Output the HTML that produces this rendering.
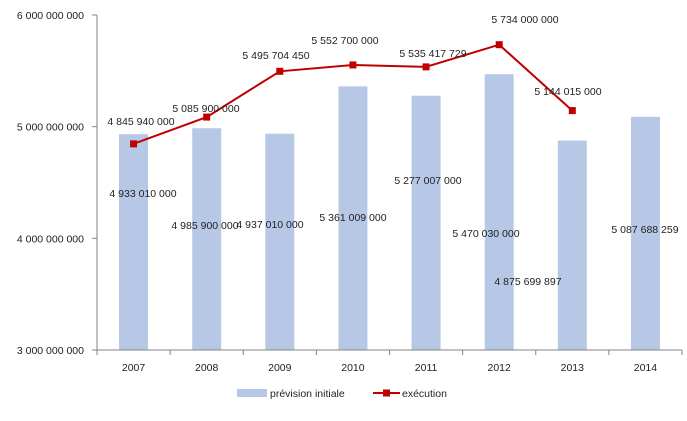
<!DOCTYPE html>
<html><head><meta charset="utf-8"><style>
body{margin:0;background:#fff}
svg text{font-family:"Liberation Sans",sans-serif;font-size:10.5px;fill:#222}
</style></head><body>
<svg id="c" width="687" height="416"></svg>
<script>
const categories=["2007","2008","2009","2010","2011","2012","2013","2014"];
const prevision=[4933010000,4985900000,4937010000,5361009000,5277007000,5470030000,4875699897,5087688259];
const execution=[4845940000,5085900000,5495704450,5552700000,5535417729,5734000000,5144015000];
const prevLabels=["4 933 010 000","4 985 900 000","4 937 010 000","5 361 009 000","5 277 007 000","5 470 030 000","4 875 699 897","5 087 688 259"];
const execLabels=["4 845 940 000","5 085 900 000","5 495 704 450","5 552 700 000","5 535 417 729","5 734 000 000","5 144 015 000"];
const yTicks=[3000000000,4000000000,5000000000,6000000000];
const yTickLabels=["3 000 000 000","4 000 000 000","5 000 000 000","6 000 000 000"];
// layout-only label placement
const prevLabelPos=[[143,193],[205,225],[270,224],[353,217],[428,180],[486,233],[528,281],[645,229]];
const execLabelPos=[[141,121],[206,108],[276,55],[345,40],[433,53],[525,19],[568,91]];
const NS="http://www.w3.org/2000/svg",svg=document.getElementById('c');
const x0=97,x1=682,yTop=15,yBot=350,vmin=3e9,vmax=6e9;
const bw=(x1-x0)/categories.length;
const X=i=>x0+bw*(i+0.5);
const Y=v=>yBot-(v-vmin)/(vmax-vmin)*(yBot-yTop);
function mk(t,a,p){const e=document.createElementNS(NS,t);for(const k in a)e.setAttribute(k,a[k]);(p||svg).appendChild(e);return e;}
prevision.forEach((v,i)=>{const r=mk('rect',{x:X(i)-14.5,y:Y(v),width:29,height:yBot-Y(v),fill:'#b7c7e6'});

});
mk('line',{x1:x0,y1:yTop,x2:x0,y2:yBot,stroke:'#868686'});
mk('line',{x1:x0,y1:yBot,x2:x1,y2:yBot,stroke:'#868686'});
yTicks.forEach((v,i)=>{mk('line',{x1:x0-5,y1:Y(v),x2:x0,y2:Y(v),stroke:'#868686'});
const t=mk('text',{x:x0-13,y:Y(v)+4,'text-anchor':'end'});t.textContent=yTickLabels[i];

});
for(let i=0;i<=categories.length;i++)mk('line',{x1:x0+bw*i,y1:yBot,x2:x0+bw*i,y2:yBot+5,stroke:'#868686'});
categories.forEach((c,i)=>{const t=mk('text',{x:X(i),y:yBot+21,'text-anchor':'middle'});t.textContent=c;

});
const pts=execution.map((v,i)=>X(i)+','+Y(v)).join(' ');
const pl=mk('polyline',{points:pts,fill:'none',stroke:'#c00000','stroke-width':2});


execution.forEach((v,i)=>{const m=mk('rect',{x:X(i)-3.5,y:Y(v)-3.5,width:7,height:7,fill:'#c00000'});

});
prevLabels.forEach((l,i)=>{const t=mk('text',{x:prevLabelPos[i][0],y:prevLabelPos[i][1]+4,'text-anchor':'middle'});t.textContent=l;

});
execLabels.forEach((l,i)=>{const t=mk('text',{x:execLabelPos[i][0],y:execLabelPos[i][1]+4,'text-anchor':'middle'});t.textContent=l;

});
const g=mk('g',{});


mk('rect',{x:237,y:389,width:30,height:8,fill:'#b7c7e6'},g);
let t=mk('text',{x:270,y:397},g);t.textContent='prévision initiale';
mk('line',{x1:373,y1:393,x2:400,y2:393,stroke:'#c00000','stroke-width':2},g);
mk('rect',{x:383,y:389.5,width:7,height:7,fill:'#c00000'},g);
t=mk('text',{x:402,y:397},g);t.textContent='exécution';
</script>
</body></html>
